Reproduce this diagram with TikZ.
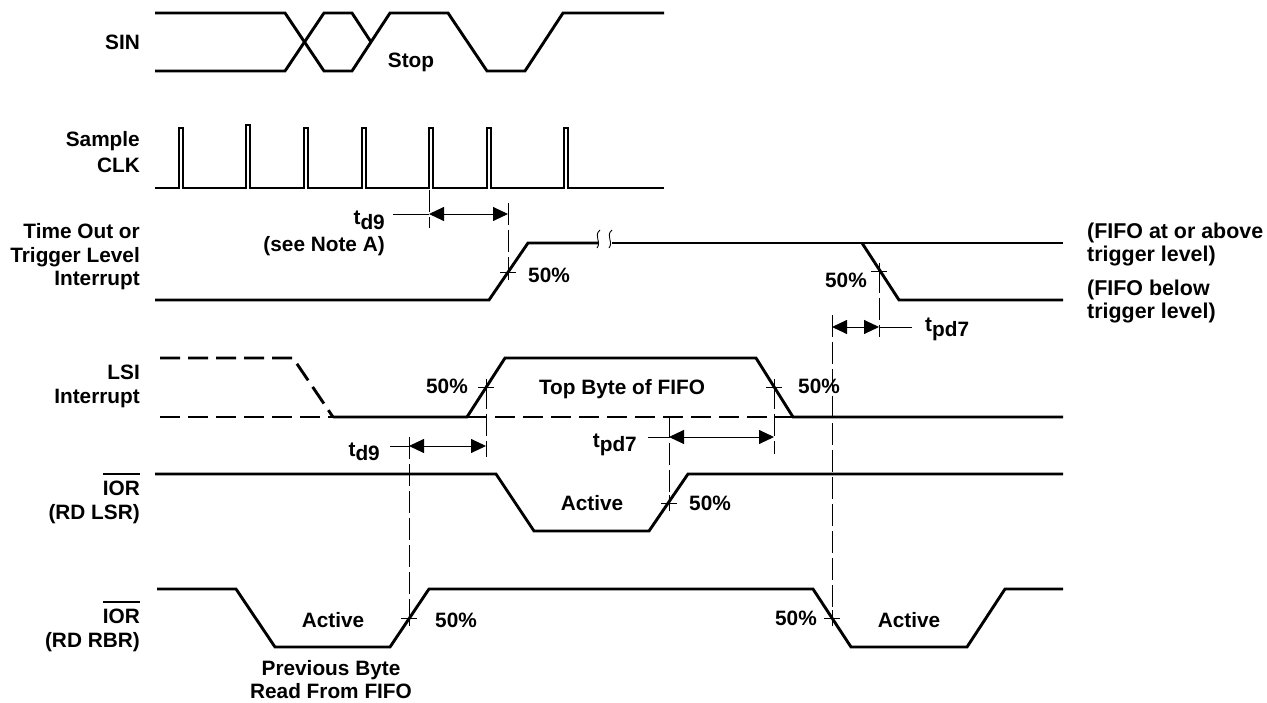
\documentclass[tikz,border=0pt]{standalone}
\usepackage{fontspec}
\setmainfont{Liberation Sans}
\usetikzlibrary{arrows.meta}
\newcommand\tsub[1]{t\raisebox{-4.5pt}{#1}}
\newcommand\myovl[1]{\setbox0\hbox{#1}\rlap{\rule[\dimexpr\ht0+5pt\relax]{\wd0}{2.8pt}}\box0}
\newcommand\mycross[1]{\draw[tick] ([xshift=-8pt]#1) -- ([xshift=8pt]#1) ([yshift=-8pt]#1) -- ([yshift=8pt]#1);}
\begin{document}
\begin{tikzpicture}[x=1pt,y=-1pt,
  font=\fontsize{20.8}{24}\selectfont\bfseries,
  sig/.style={line width=2.9pt, line join=miter, black},
  sigdash/.style={sig, dash pattern=on 20pt off 8pt},
  clk/.style={line width=2.2pt, line join=miter, black},
  refl/.style={line width=0.9pt, dash pattern=on 22pt off 5pt},
  tick/.style={line width=0.9pt},
  dim/.style={line width=0.9pt, {Triangle[length=15pt,width=14pt]}-{Triangle[length=15pt,width=14pt]}},
  lbl/.style={anchor=base east, inner sep=0pt},
  tw/.style={anchor=base west, inner sep=0pt},
  te/.style={anchor=base east, inner sep=0pt},
  tc/.style={anchor=base, inner sep=0pt},
  rt/.style={anchor=base west, inner sep=0pt, font=\fontsize{21.4}{24}\selectfont\bfseries}]
\useasboundingbox (0,0) rectangle (1267,703);

% ---- left labels
\node[lbl] (lsin) at (140,50) {SIN};
\node[lbl] (lsmp) at (140,147) {Sample};
\node[lbl] (lclk) at (140,173) {CLK};
\node[lbl] (lto1) at (140,239) {Time Out or};
\node[lbl] (lto2) at (140,262.5) {Trigger Level};
\node[lbl] (lto3) at (140,286) {Interrupt};
\node[lbl] (llsi1) at (140,380) {LSI};
\node[lbl] (llsi2) at (140,403) {Interrupt};
\node[lbl] (lior1) at (140,495) {\myovl{IOR}};
\node[lbl] (lior2) at (140,519) {(RD LSR)};
\node[lbl] (lrbr1) at (140,623) {\myovl{IOR}};
\node[lbl] (lrbr2) at (140,647) {(RD RBR)};

% ---- SIN
\draw[sig] (155,13) -- (285,13) -- (324,71) -- (352,71) -- (390,13) -- (448,13) -- (487,71) -- (525,71) -- (563,13) -- (664,13);
\draw[sig] (155,71) -- (285,71) -- (324,13) -- (352,13) -- (371,42);
\node[tc] (stop) at (411,68) {Stop};

% ---- Sample CLK
\draw[clk] (155,188)
  -- (179,188) -- (179,128) -- (183,128) -- (183,188)
  -- (246,188) -- (246,125) -- (250,125) -- (250,188)
  -- (304,188) -- (304,128) -- (308,128) -- (308,188)
  -- (362,188) -- (362,128) -- (366,128) -- (366,188)
  -- (429,188) -- (429,128) -- (433,128) -- (433,188)
  -- (487,188) -- (487,128) -- (491,128) -- (491,188)
  -- (564,188) -- (564,128) -- (568,128) -- (568,188)
  -- (664,188);

% ---- Time out / trigger level interrupt
\draw[sig] (155,300) -- (489,300) -- (528,243) -- (598,243);
\draw[sig] (612,243) -- (1063,243);
\draw[sig] (862,243) -- (899,300) -- (1063,300);
\draw[tick] (600,230) .. controls (593,236) and (602,241) .. (597,248);
\draw[tick] (612,230) .. controls (605,236) and (614,241) .. (609,248);

% ---- LSI interrupt
\draw[sigdash] (160,358) -- (293,358) -- (333,417);
\draw[sigdash] (160,417) -- (333,417);
\draw[sig] (333,417) -- (467,417) -- (505,358) -- (756,358) -- (793,417) -- (1063,417);
\draw[sigdash] (467,417) -- (793,417);

% ---- IOR (RD LSR)
\draw[sig] (155,474) -- (496,474) -- (534,531) -- (649,531) -- (688,474) -- (1063,474);

% ---- IOR (RD RBR)
\draw[sig] (157,589) -- (236,589) -- (275,647) -- (390,647) -- (429,589) -- (813,589) -- (851,647) -- (967,647) -- (1005,589) -- (1063,589);

% ---- reference points
\coordinate (c1) at (508,272);
\coordinate (c2) at (879,271);
\coordinate (c3) at (486,387);
\coordinate (c4) at (774,387);
\coordinate (c5) at (669,503);
\coordinate (c6) at (409,618);
\coordinate (c7) at (832,618);
\mycross{c1} \mycross{c2} \mycross{c3} \mycross{c4} \mycross{c5} \mycross{c6} \mycross{c7}

% ---- dashed reference verticals
\coordinate (v1a) at (429,190); \coordinate (v1b) at (429,228);
\coordinate (v2a) at (508,203);
\coordinate (v3b) at (879,337);
\coordinate (v4a) at (832,315);
\coordinate (v5b) at (486,457);
\coordinate (v6a) at (409,437);
\coordinate (v7b) at (774,454);
\coordinate (v8a) at (669,416);
\draw[refl] (v1a) -- (v1b);
\draw[refl] (v2a) -- (c1);
\draw[refl] (c2) -- (v3b);
\draw[refl] (v4a) -- (c7);
\draw[refl] (c3) -- (v5b);
\draw[refl] (v6a) -- (c6);
\draw[refl] (c4) -- (v7b);
\draw[refl] (v8a) -- (c5);

% ---- timing dimensions
\coordinate (a1l) at (429,214); \coordinate (a1r) at (508,214); \coordinate (a1t) at (393,214);
\draw[dim] (a1l) -- (a1r); \draw[tick] (a1t) -- (a1l);
\node[te] (td9a) at (385,225) {\tsub{d9}};
\node[te] (note) at (385,252) {(see Note A)};

\coordinate (a2l) at (832,327); \coordinate (a2r) at (879,327); \coordinate (a2t) at (912,327);
\draw[dim] (a2l) -- (a2r); \draw[tick] (a2r) -- (a2t);
\node[tw] (tpd7a) at (925,332) {\tsub{pd7}};

\coordinate (a3l) at (409,446); \coordinate (a3r) at (486,446); \coordinate (a3t) at (390,446);
\draw[dim] (a3l) -- (a3r); \draw[tick] (a3t) -- (a3l);
\node[te] (td9b) at (380,456) {\tsub{d9}};

\coordinate (a4l) at (669,437); \coordinate (a4r) at (774,437); \coordinate (a4t) at (648,437);
\draw[dim] (a4l) -- (a4r); \draw[tick] (a4t) -- (a4l);
\node[te] (tpd7b) at (637,447) {\tsub{pd7}};

% ---- other texts
\node[tw] (p1) at (528,283) {50\%};
\node[te] (p2) at (867,288) {50\%};
\node[rt] (f1) at (1087,239) {(FIFO at or above};
\node[rt] (f2) at (1087,262) {trigger level)};
\node[rt] (f3) at (1087,296) {(FIFO below};
\node[rt] (f4) at (1087,319) {trigger level)};
\node[te] (p3) at (468,394) {50\%};
\node[tc] (top) at (622,395) {Top Byte of FIFO};
\node[tw] (p4) at (798,394) {50\%};
\node[tc] (act1) at (592,510) {Active};
\node[tw] (p5) at (689,510) {50\%};
\node[tc] (act2) at (333,627) {Active};
\node[tw] (p6) at (435,627) {50\%};
\node[tc] (prev1) at (331,675) {Previous Byte};
\node[tc] (prev2) at (331,698) {Read From FIFO};
\node[te] (p7) at (817,625) {50\%};
\node[tc] (act3) at (909,627) {Active};
\end{tikzpicture}
\end{document}
